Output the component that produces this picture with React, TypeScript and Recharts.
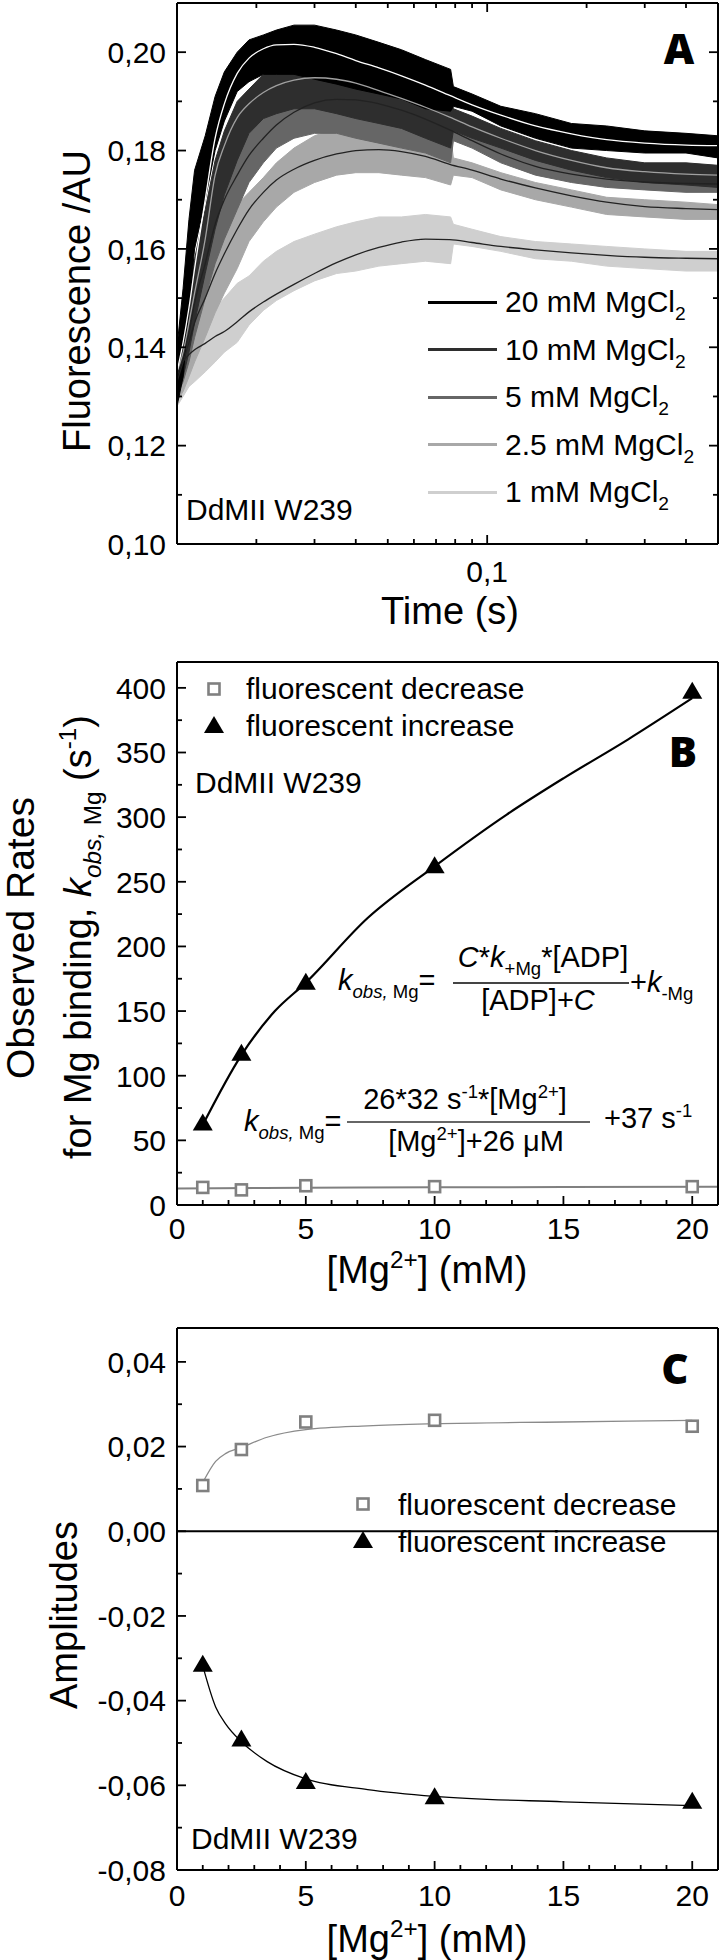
import React from 'react'
import { Area, ComposedChart, Line, ReferenceLine, Scatter, XAxis, YAxis } from 'recharts'

const FONT = '"Liberation Sans", Arial, Helvetica, sans-serif'

// ---------- Panel A: stopped-flow traces ----------
const timeTicks = [0.02, 0.03, 0.04, 0.05, 0.06, 0.07, 0.08, 0.09, 0.1, 0.2, 0.3, 0.4, 0.5]
const timeMajors = [0.1]
const fluoTicks = [0.1, 0.11, 0.12, 0.13, 0.14, 0.15, 0.16, 0.17, 0.18, 0.19, 0.2]
const fluoMajors = [0.1, 0.12, 0.14, 0.16, 0.18, 0.2]

const fitTime = [0.0115, 0.012, 0.0125, 0.013, 0.014, 0.015, 0.016, 0.0175, 0.019, 0.021, 0.023, 0.026, 0.03, 0.035, 0.04, 0.047, 0.055, 0.065, 0.077, 0.09, 0.11, 0.14, 0.18, 0.23, 0.3, 0.4, 0.5]
const fit20 = [0.135, 0.141, 0.148, 0.156, 0.17, 0.1825, 0.1895, 0.1957, 0.1988, 0.2007, 0.2015, 0.2016, 0.201, 0.1997, 0.1983, 0.1968, 0.1952, 0.1933, 0.1912, 0.1893, 0.1872, 0.185, 0.1834, 0.1822, 0.1815, 0.1811, 0.181]
const fit10 = [0.135, 0.139, 0.145, 0.151, 0.162, 0.175, 0.181, 0.1867, 0.1895, 0.1918, 0.1932, 0.1943, 0.1948, 0.1945, 0.1937, 0.1922, 0.1906, 0.1888, 0.1868, 0.1848, 0.1825, 0.18, 0.178, 0.1765, 0.1757, 0.1752, 0.175]
const fit5 = [0.134, 0.138, 0.143, 0.149, 0.157, 0.165, 0.17, 0.175, 0.179, 0.1825, 0.1852, 0.1878, 0.1897, 0.1904, 0.1903, 0.1895, 0.1882, 0.1864, 0.1842, 0.182, 0.1793, 0.1768, 0.1752, 0.1742, 0.1736, 0.1733, 0.1732]
const fit25 = [0.133, 0.137, 0.141, 0.145, 0.15, 0.155, 0.159, 0.164, 0.168, 0.1715, 0.174, 0.1762, 0.178, 0.1793, 0.18, 0.1802, 0.1798, 0.1788, 0.1772, 0.176, 0.1742, 0.1724, 0.1708, 0.1695, 0.1686, 0.1682, 0.168]
const fit1 = [0.136, 0.1372, 0.1385, 0.1395, 0.1408, 0.1422, 0.1432, 0.1452, 0.1472, 0.1492, 0.1508, 0.1528, 0.155, 0.1572, 0.1588, 0.1603, 0.1614, 0.162, 0.1619, 0.1613, 0.1605, 0.1598, 0.1592, 0.1587, 0.1583, 0.1581, 0.158]

// noise envelopes of the raw traces (low / high)
const noiseTime = [0.0115, 0.012, 0.0125, 0.013, 0.014, 0.015, 0.016, 0.0175, 0.019, 0.021, 0.023, 0.026, 0.03, 0.035, 0.04, 0.047, 0.055, 0.065, 0.0775, 0.079, 0.09, 0.11, 0.14, 0.18, 0.23, 0.3, 0.4, 0.5]
const lo20 = [0.128, 0.134, 0.148, 0.16, 0.17, 0.18, 0.186, 0.192, 0.194, 0.1955, 0.1955, 0.1955, 0.1945, 0.1935, 0.1925, 0.1915, 0.1905, 0.1885, 0.188, 0.189, 0.188, 0.185, 0.1825, 0.1805, 0.18, 0.1795, 0.1795, 0.1785]
const hi20 = [0.14, 0.152, 0.166, 0.176, 0.183, 0.191, 0.196, 0.2, 0.2025, 0.2035, 0.2045, 0.2055, 0.2055, 0.2045, 0.2035, 0.202, 0.2005, 0.1985, 0.1965, 0.193, 0.1915, 0.189, 0.1875, 0.1855, 0.185, 0.184, 0.1835, 0.183]
const lo10 = [0.13, 0.134, 0.139, 0.145, 0.155, 0.164, 0.171, 0.178, 0.1835, 0.1865, 0.1875, 0.1885, 0.1885, 0.1875, 0.1865, 0.1855, 0.1845, 0.1825, 0.1805, 0.184, 0.1825, 0.1805, 0.178, 0.176, 0.1745, 0.1735, 0.173, 0.1725]
const hi10 = [0.14, 0.146, 0.152, 0.158, 0.168, 0.178, 0.184, 0.19, 0.1925, 0.1955, 0.1975, 0.1985, 0.199, 0.1985, 0.198, 0.1965, 0.1955, 0.1935, 0.1915, 0.1885, 0.187, 0.1845, 0.182, 0.18, 0.1785, 0.1775, 0.1775, 0.177]
const lo5 = [0.13, 0.133, 0.137, 0.142, 0.15, 0.157, 0.162, 0.168, 0.1735, 0.1775, 0.1805, 0.1825, 0.1835, 0.1835, 0.1825, 0.1815, 0.1805, 0.1795, 0.1775, 0.182, 0.1805, 0.1775, 0.175, 0.1735, 0.1725, 0.172, 0.1715, 0.1715]
const hi5 = [0.139, 0.144, 0.15, 0.156, 0.164, 0.171, 0.176, 0.181, 0.1835, 0.1865, 0.1895, 0.1915, 0.1925, 0.1925, 0.1925, 0.1915, 0.1905, 0.189, 0.1875, 0.186, 0.184, 0.181, 0.1785, 0.177, 0.176, 0.1755, 0.175, 0.175]
const lo25 = [0.129, 0.131, 0.134, 0.137, 0.142, 0.147, 0.151, 0.156, 0.1615, 0.1655, 0.1685, 0.1715, 0.1735, 0.175, 0.1755, 0.1755, 0.175, 0.1745, 0.173, 0.175, 0.1745, 0.172, 0.17, 0.1685, 0.167, 0.1665, 0.166, 0.166]
const hi25 = [0.138, 0.141, 0.145, 0.149, 0.155, 0.16, 0.164, 0.169, 0.1715, 0.1745, 0.1775, 0.1805, 0.183, 0.1845, 0.185, 0.1855, 0.185, 0.1845, 0.183, 0.1785, 0.1775, 0.1755, 0.1735, 0.172, 0.1705, 0.17, 0.1695, 0.169]
const lo1 = [0.128, 0.13, 0.132, 0.133, 0.135, 0.137, 0.139, 0.141, 0.1445, 0.1475, 0.1495, 0.1515, 0.1535, 0.155, 0.1555, 0.1565, 0.157, 0.1575, 0.157, 0.161, 0.1605, 0.1595, 0.158, 0.1575, 0.1565, 0.156, 0.1555, 0.1555]
const hi1 = [0.138, 0.14, 0.142, 0.144, 0.146, 0.148, 0.15, 0.153, 0.1545, 0.1575, 0.1595, 0.1615, 0.163, 0.1645, 0.1655, 0.1665, 0.1665, 0.167, 0.1665, 0.165, 0.164, 0.1625, 0.1615, 0.161, 0.1605, 0.16, 0.1595, 0.1595]

const traceLabels = ['20', '10', '5', '2.5', '1']
const traceColors = ['#000000', '#2e2e2e', '#666666', '#a8a8a8', '#cfcfcf']
const fitColors = ['#ffffff', '#a0a0a0', '#222222', '#222222', '#222222']

// ---------- Panel B / C: Mg dependence ----------
const mgConc = [1, 2.5, 5, 10, 20]
const mgTicks = [0, 1, 2, 3, 4, 5, 6, 7, 8, 9, 10, 11, 12, 13, 14, 15, 16, 17, 18, 19, 20]
const mgMajors = [0, 5, 10, 15, 20]

const rateIncrease = [63, 117, 172, 262, 397]
const rateDecrease = [13.6, 11.7, 14.9, 14.2, 14.2]
const rateFitX = [1, 2.5, 3.8, 5, 7.4, 10, 12.8, 15, 17.5, 20]
const rateFitIncrease = [62, 116, 150, 172, 222, 262, 302, 330, 360, 392]
const rateFitDecX = [0, 5, 10, 15, 21]
const rateFitDecrease = [12.8, 13.4, 13.7, 13.9, 14.1]
const rateTicks = [0, 25, 50, 75, 100, 125, 150, 175, 200, 225, 250, 275, 300, 325, 350, 375, 400]
const rateMajors = [0, 50, 100, 150, 200, 250, 300, 350, 400]

const ampDecrease = [0.0108, 0.0193, 0.0258, 0.0262, 0.0248]
const ampIncrease = [-0.0315, -0.0492, -0.0592, -0.0628, -0.0639]
const ampFitX = [1, 1.5, 1.9, 2.5, 3.5, 5, 7.4, 10, 15, 20]
const ampFitDecrease = [0.0115, 0.0165, 0.0184, 0.0198, 0.0222, 0.024, 0.0249, 0.0254, 0.0258, 0.0262]
const ampFitIncrease = [-0.0318, -0.0415, -0.0456, -0.0497, -0.0544, -0.0585, -0.061, -0.0626, -0.0639, -0.0648]
const ampTicks = [-0.08, -0.07, -0.06, -0.05, -0.04, -0.03, -0.02, -0.01, 0, 0.01, 0.02, 0.03, 0.04]
const ampMajors = [-0.08, -0.06, -0.04, -0.02, 0, 0.02, 0.04]

const comma = (d: number) => (v: number) => v.toFixed(d).replace('.', ',')
const near = (v: number, list: number[]) => list.some((m) => Math.abs(m - v) < 1e-9)
const tickFont = { fontFamily: FONT, fontSize: 30, fill: '#000' }

function yTick(edge: number, dir: number, majors: number[], fmt?: (v: number) => string) {
  return (p: any) => {
    const v = p.payload.value
    const major = near(v, majors)
    return (
      <g>
        <line x1={edge} x2={edge + dir * (major ? 9 : 5)} y1={p.y} y2={p.y} stroke="#000" strokeWidth={1.8} />
        {fmt && major && (
          <text x={edge - 11} y={p.y} dy="0.36em" textAnchor="end" style={tickFont}>
            {fmt(v)}
          </text>
        )}
      </g>
    )
  }
}

function xTick(edge: number, dir: number, majors: number[], fmt?: (v: number) => string, labelY = 0) {
  return (p: any) => {
    const v = p.payload.value
    const major = near(v, majors)
    return (
      <g>
        <line x1={p.x} x2={p.x} y1={edge} y2={edge + dir * (major ? 9 : 5)} stroke="#000" strokeWidth={1.8} />
        {fmt && major && (
          <text x={p.x} y={labelY} dy="0.36em" textAnchor="middle" style={tickFont}>
            {fmt(v)}
          </text>
        )}
      </g>
    )
  }
}

const axisLine = { stroke: '#000', strokeWidth: 2 }

const Sub = ({ children }: any) => (
  <span style={{ fontSize: '0.64em', position: 'relative', top: '0.42em' }}>{children}</span>
)
const Sup = ({ children }: any) => (
  <span style={{ fontSize: '0.64em', position: 'relative', top: '-0.62em' }}>{children}</span>
)

const T = ({ x, y, children, anchor = 'start', size = 30, style = {} }: any) => (
  <div
    style={{
      position: 'absolute',
      left: x,
      top: y,
      transform: `translate(${anchor === 'middle' ? '-50%' : anchor === 'end' ? '-100%' : '0'}, -50%)`,
      fontFamily: FONT,
      fontSize: size,
      lineHeight: 1,
      whiteSpace: 'nowrap',
      color: '#000',
      ...style,
    }}
  >
    {children}
  </div>
)

const VT = ({ x, y, children, size = 38 }: any) => (
  <div
    style={{
      position: 'absolute',
      left: x,
      top: y,
      transform: 'translate(-50%, -50%) rotate(-90deg)',
      fontFamily: FONT,
      fontSize: size,
      lineHeight: 1,
      whiteSpace: 'nowrap',
      color: '#000',
    }}
  >
    {children}
  </div>
)

const Letter = ({ x, y, children }: any) => (
  <T x={x} y={y} anchor="middle" size={42} style={{ fontFamily: '"Open Sans", "DejaVu Sans", sans-serif', fontWeight: 800 }}>
    {children}
  </T>
)

const SquareMark = (p: any) => (
  <rect x={p.cx - 5.5} y={p.cy - 5.5} width={11} height={11} fill="#fff" stroke="#808080" strokeWidth={2.6} />
)
const TriMark = (p: any) => (
  <polygon points={`${p.cx},${p.cy - 10} ${p.cx - 10},${p.cy + 7} ${p.cx + 10},${p.cy + 7}`} fill="#000" />
)

const LegendSquare = ({ x, y }: any) => (
  <svg style={{ position: 'absolute', left: x - 10, top: y - 10 }} width={20} height={20}>
    <SquareMark cx={10} cy={10} />
  </svg>
)
const LegendTri = ({ x, y }: any) => (
  <svg style={{ position: 'absolute', left: x - 12, top: y - 12 }} width={24} height={24}>
    <TriMark cx={12} cy={12} />
  </svg>
)

const fluoFits = [fit20, fit10, fit5, fit25, fit1]
const fluoLo = [lo20, lo10, lo5, lo25, lo1]
const fluoHi = [hi20, hi10, hi5, hi25, hi1]

const PanelA = () => {
  const order = [4, 3, 2, 1, 0]
  return (
    <ComposedChart width={720} height={640} margin={{ top: 2, right: 0, bottom: 0, left: 0 }}>
      <XAxis
        dataKey="t"
        type="number"
        scale="log"
        domain={[0.0115, 0.5]}
        allowDataOverflow
        ticks={timeTicks}
        interval={0}
        height={96}
        axisLine={axisLine}
        tickLine={false}
        tick={xTick(544, -1, timeMajors, comma(1), 571)}
      />
      <XAxis
        xAxisId="top"
        orientation="top"
        dataKey="t"
        type="number"
        scale="log"
        domain={[0.0115, 0.5]}
        allowDataOverflow
        ticks={timeTicks}
        interval={0}
        height={1}
        axisLine={axisLine}
        tickLine={false}
        tick={xTick(3, 1, timeMajors)}
      />
      <YAxis
        type="number"
        domain={[0.1, 0.21]}
        allowDataOverflow
        ticks={fluoTicks}
        interval={0}
        width={177}
        axisLine={axisLine}
        tickLine={false}
        tick={yTick(177, 1, fluoMajors, comma(2))}
      />
      <YAxis
        yAxisId="right"
        orientation="right"
        type="number"
        domain={[0.1, 0.21]}
        allowDataOverflow
        ticks={fluoTicks}
        interval={0}
        width={2}
        axisLine={axisLine}
        tickLine={false}
        tick={yTick(718, -1, fluoMajors)}
      />
      {order.map((k) => (
        <Area
          key={'band' + k}
          data={noiseTime.map((t, i) => ({ t, band: [fluoLo[k][i], fluoHi[k][i]] }))}
          dataKey="band"
          type="linear"
          fill={traceColors[k]}
          fillOpacity={1}
          stroke={traceColors[k]}
          strokeWidth={1}
          isAnimationActive={false}
          activeDot={false}
        />
      ))}
      {order.map((k) => (
        <Line
          key={'fit' + k}
          data={fitTime.map((t, i) => ({ t, v: fluoFits[k][i] }))}
          dataKey="v"
          type="monotone"
          stroke={fitColors[k]}
          strokeWidth={1.3}
          dot={false}
          activeDot={false}
          isAnimationActive={false}
        />
      ))}
    </ComposedChart>
  )
}

const PanelB = () => (
  <ComposedChart width={720} height={640} margin={{ top: 21, right: 0, bottom: 0, left: 0 }}>
    <XAxis
      dataKey="x"
      type="number"
      domain={[0, 21]}
      ticks={mgTicks}
      interval={0}
      height={75}
      axisLine={axisLine}
      tickLine={false}
      tick={xTick(565, -1, mgMajors, (v) => String(v), 588)}
    />
    <XAxis
      xAxisId="top"
      orientation="top"
      dataKey="x"
      type="number"
      domain={[0, 21]}
      ticks={mgTicks}
      interval={0}
      height={1}
      axisLine={axisLine}
      tickLine={false}
      tick={xTick(22, 1, mgMajors)}
    />
    <YAxis
      type="number"
      domain={[0, 420]}
      ticks={rateTicks}
      interval={0}
      width={177}
      axisLine={axisLine}
      tickLine={false}
      tick={yTick(177, 1, rateMajors, (v) => String(v))}
    />
    <YAxis
      yAxisId="right"
      orientation="right"
      type="number"
      domain={[0, 420]}
      ticks={rateTicks}
      interval={0}
      width={2}
      axisLine={axisLine}
      tickLine={false}
      tick={yTick(718, -1, rateMajors)}
    />
    <Line
      data={rateFitDecX.map((x, i) => ({ x, y: rateFitDecrease[i] }))}
      dataKey="y"
      type="monotone"
      stroke="#808080"
      strokeWidth={2}
      dot={false}
      activeDot={false}
      isAnimationActive={false}
    />
    <Line
      data={rateFitX.map((x, i) => ({ x, y: rateFitIncrease[i] }))}
      dataKey="y"
      type="monotone"
      stroke="#000"
      strokeWidth={2.2}
      dot={false}
      activeDot={false}
      isAnimationActive={false}
    />
    <Scatter data={mgConc.map((x, i) => ({ x, y: rateDecrease[i] }))} dataKey="y" shape={SquareMark} isAnimationActive={false} />
    <Scatter data={mgConc.map((x, i) => ({ x, y: rateIncrease[i] }))} dataKey="y" shape={TriMark} isAnimationActive={false} />
  </ComposedChart>
)

const PanelC = () => (
  <ComposedChart width={720} height={680} margin={{ top: 47, right: 0, bottom: 0, left: 0 }}>
    <XAxis
      dataKey="x"
      type="number"
      domain={[0, 21]}
      ticks={mgTicks}
      interval={0}
      height={90}
      axisLine={axisLine}
      tickLine={false}
      tick={xTick(590, -1, mgMajors, (v) => String(v), 615)}
    />
    <XAxis
      xAxisId="top"
      orientation="top"
      dataKey="x"
      type="number"
      domain={[0, 21]}
      ticks={mgTicks}
      interval={0}
      height={1}
      axisLine={axisLine}
      tickLine={false}
      tick={xTick(48, 1, mgMajors)}
    />
    <YAxis
      type="number"
      domain={[-0.08, 0.048]}
      ticks={ampTicks}
      interval={0}
      width={177}
      axisLine={axisLine}
      tickLine={false}
      tick={yTick(177, 1, ampMajors, comma(2))}
    />
    <YAxis
      yAxisId="right"
      orientation="right"
      type="number"
      domain={[-0.08, 0.048]}
      ticks={ampTicks}
      interval={0}
      width={2}
      axisLine={axisLine}
      tickLine={false}
      tick={yTick(718, -1, ampMajors)}
    />
    <ReferenceLine y={0} stroke="#000" strokeWidth={2} />
    <Line
      data={ampFitX.map((x, i) => ({ x, y: ampFitDecrease[i] }))}
      dataKey="y"
      type="monotone"
      stroke="#8a8a8a"
      strokeWidth={1.3}
      dot={false}
      activeDot={false}
      isAnimationActive={false}
    />
    <Line
      data={ampFitX.map((x, i) => ({ x, y: ampFitIncrease[i] }))}
      dataKey="y"
      type="monotone"
      stroke="#000"
      strokeWidth={1.3}
      dot={false}
      activeDot={false}
      isAnimationActive={false}
    />
    <Scatter data={mgConc.map((x, i) => ({ x, y: ampDecrease[i] }))} dataKey="y" shape={SquareMark} isAnimationActive={false} />
    <Scatter data={mgConc.map((x, i) => ({ x, y: ampIncrease[i] }))} dataKey="y" shape={TriMark} isAnimationActive={false} />
  </ComposedChart>
)

const legendRowsY = [302, 349.5, 397, 444.5, 492]

export default function App() {
  return (
    <div style={{ position: 'absolute', left: 0, top: 0, width: 720, height: 1960, background: '#fff', overflow: 'hidden' }}>
      <div style={{ position: 'absolute', left: 0, top: 0 }}>
        <PanelA />
      </div>
      <div style={{ position: 'absolute', left: 0, top: 640 }}>
        <PanelB />
      </div>
      <div style={{ position: 'absolute', left: 0, top: 1280 }}>
        <PanelC />
      </div>

      {/* Panel A texts */}
      <Letter x={679} y={48}>A</Letter>
      <VT x={77} y={301}>Fluorescence /AU</VT>
      <T x={450} y={611} anchor="middle" size={38}>Time (s)</T>
      <T x={186} y={510}>DdMII W239</T>
      {traceLabels.map((lab, k) => (
        <React.Fragment key={lab}>
          <div
            style={{
              position: 'absolute',
              left: 428,
              top: legendRowsY[k] - 1.5,
              width: 69,
              height: 3,
              background: traceColors[k],
            }}
          />
          <T x={505} y={legendRowsY[k]}>
            {lab} mM MgCl<Sub>2</Sub>
          </T>
        </React.Fragment>
      ))}

      {/* Panel B texts */}
      <Letter x={683} y={751}>B</Letter>
      <VT x={20} y={938} size={39}>Observed Rates</VT>
      <VT x={78} y={937}>
        for Mg binding, <i>k</i>
        <Sub>
          <i>obs,</i> Mg
        </Sub>{' '}
        (s<Sup>-1</Sup>)
      </VT>
      <T x={427} y={1270} anchor="middle" size={38}>
        [Mg<Sup>2+</Sup>] (mM)
      </T>
      <LegendSquare x={214} y={689} />
      <T x={246} y={689}>fluorescent decrease</T>
      <LegendTri x={214} y={726} />
      <T x={246} y={726}>fluorescent increase</T>
      <T x={195} y={783}>DdMII W239</T>

      <T x={338} y={980} size={29}>
        <i>k</i>
        <Sub>
          <i>obs,</i> Mg
        </Sub>
        =
      </T>
      <T x={543} y={957} anchor="middle" size={29}>
        <i>C</i>*<i>k</i>
        <Sub>+Mg</Sub>*[ADP]
      </T>
      <div style={{ position: 'absolute', left: 453, top: 982, width: 176, height: 1.5, background: '#444' }} />
      <T x={538} y={1000} anchor="middle" size={29}>
        [ADP]+<i>C</i>
      </T>
      <T x={630} y={982} size={29}>
        +<i>k</i>
        <Sub>-Mg</Sub>
      </T>

      <T x={244} y={1121} size={29}>
        <i>k</i>
        <Sub>
          <i>obs,</i> Mg
        </Sub>
        =
      </T>
      <T x={465} y={1099} anchor="middle" size={29}>
        26*32 s<Sup>-1</Sup>*[Mg<Sup>2+</Sup>]
      </T>
      <div style={{ position: 'absolute', left: 347, top: 1121, width: 243, height: 1.5, background: '#666' }} />
      <T x={476} y={1141} anchor="middle" size={29}>
        [Mg<Sup>2+</Sup>]+26 μM
      </T>
      <T x={604} y={1118} size={29}>
        +37 s<Sup>-1</Sup>
      </T>

      {/* Panel C texts */}
      <Letter x={675} y={1368}>C</Letter>
      <VT x={64} y={1615}>Amplitudes</VT>
      <T x={427} y={1939} anchor="middle" size={38}>
        [Mg<Sup>2+</Sup>] (mM)
      </T>
      <LegendSquare x={363} y={1504} />
      <T x={398} y={1505}>fluorescent decrease</T>
      <LegendTri x={363} y={1541} />
      <T x={398} y={1542}>fluorescent increase</T>
      <T x={191} y={1839}>DdMII W239</T>
    </div>
  )
}
